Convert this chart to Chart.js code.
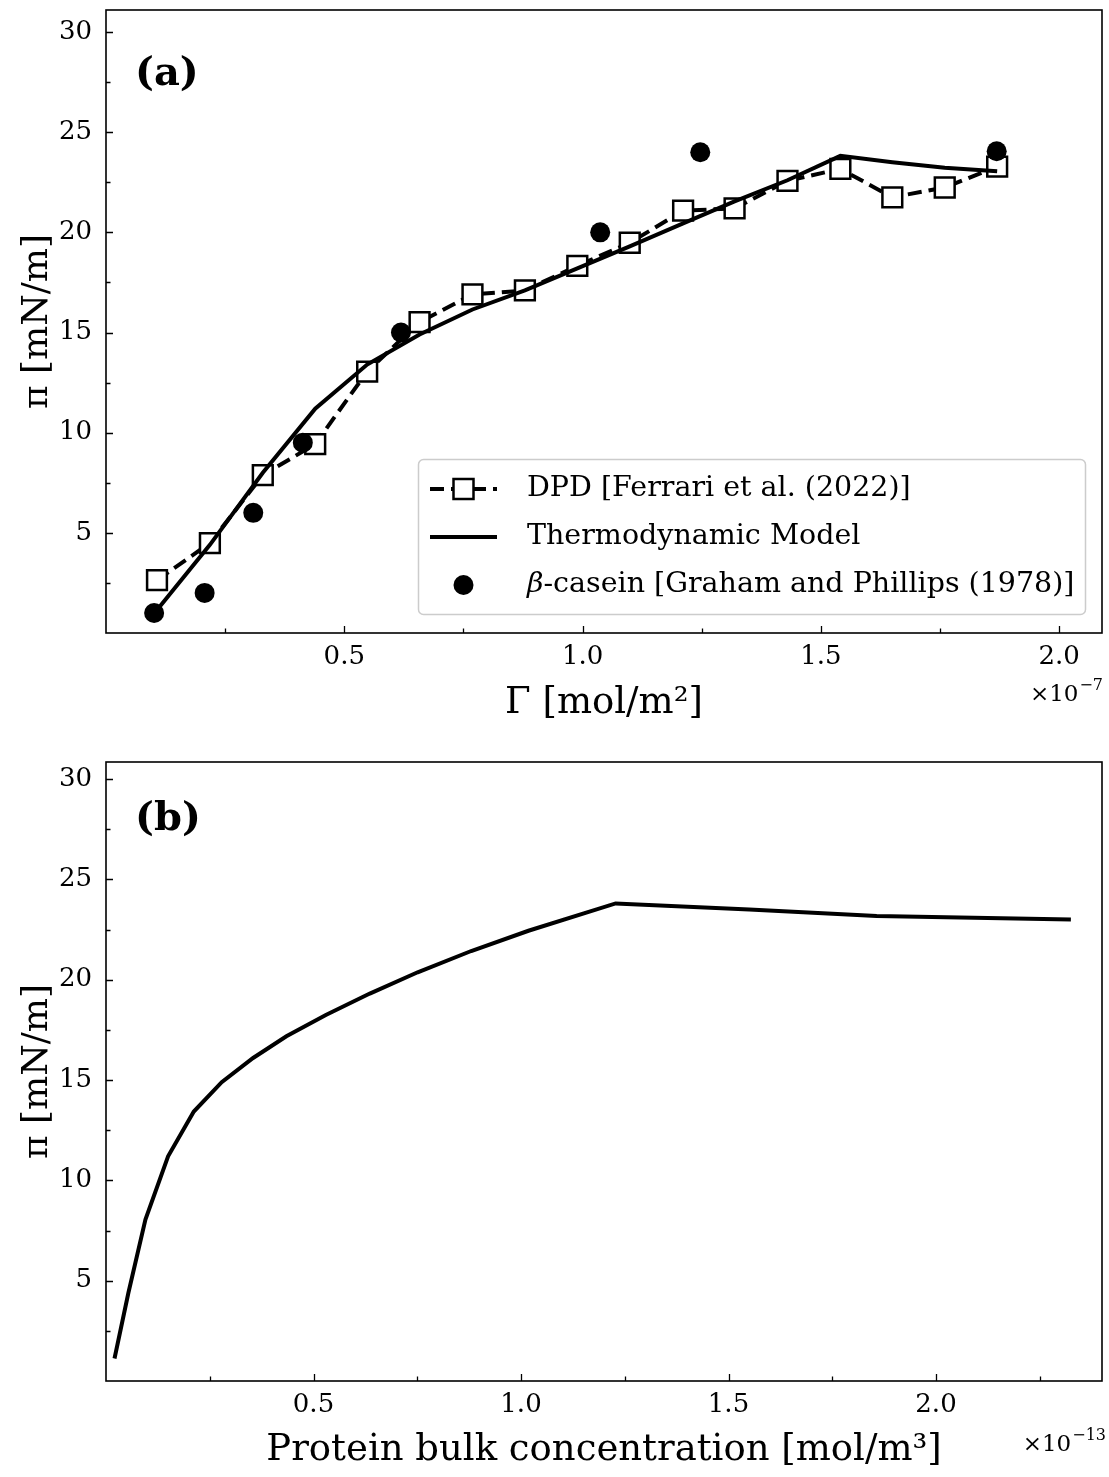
<!DOCTYPE html>
<html><head><meta charset="utf-8">
<script src="https://cdn.jsdelivr.net/npm/chart.js@4.4.0/dist/chart.umd.min.js"></script>
<style>
html,body{margin:0;padding:0;background:#fff;}
#wrap{position:relative;width:1109px;height:1477px;background:#fff;}
#c1{position:absolute;left:0;top:0;}
#c2{position:absolute;left:0;top:740px;}
</style></head><body>
<div id="wrap"><canvas id="c1" width="1109" height="740"></canvas><canvas id="c2" width="1109" height="737"></canvas></div>
<script>
// ---- data (x in units of 1e-7 mol/m2 and 1e-13 mol/m3) ----
const gammaDPD   = [0.107, 0.218, 0.329, 0.439, 0.548, 0.658, 0.769, 0.879, 0.989, 1.099, 1.211, 1.319, 1.430, 1.541, 1.650, 1.760, 1.870];
const piDPD      = [2.64, 4.49, 7.88, 9.43, 13.05, 15.52, 16.90, 17.10, 18.33, 19.48, 21.08, 21.20, 22.57, 23.17, 21.75, 22.24, 23.28];
const gammaModel = [0.107, 0.218, 0.329, 0.439, 0.548, 0.658, 0.769, 0.879, 0.989, 1.099, 1.211, 1.319, 1.430, 1.541, 1.650, 1.760, 1.870];
const piModel    = [1.15, 4.40, 8.00, 11.20, 13.40, 14.90, 16.15, 17.10, 18.20, 19.30, 20.45, 21.55, 22.60, 23.82, 23.50, 23.22, 23.05];
const gammaCasein = [0.101, 0.207, 0.309, 0.413, 0.619, 1.037, 1.247, 1.869];
const piCasein    = [1.0, 2.0, 6.0, 9.5, 15.0, 20.0, 24.0, 24.05];
const concBulk = [0.0205, 0.054, 0.095, 0.1496, 0.2116, 0.2788, 0.3545, 0.4347, 0.5297, 0.6357, 0.751, 0.880, 1.018, 1.228, 1.550, 1.857, 2.325];
const piBulk   = [1.12, 4.40, 8.05, 11.20, 13.43, 14.89, 16.10, 17.18, 18.24, 19.31, 20.37, 21.43, 22.44, 23.80, 23.50, 23.18, 23.00];

// ---- ticks ----
const xTicksTop = [0.5, 1.0, 1.5, 2.0];
const xMinorTop = [0.25, 0.75, 1.25, 1.75];
const xTicksBot = [0.5, 1.0, 1.5, 2.0];
const xMinorBot = [0.25, 0.75, 1.25, 1.75, 2.25];
const yTicks = [5, 10, 15, 20, 25, 30];
const yMinor = [2.5, 7.5, 12.5, 17.5, 22.5, 27.5];

// ---- labels ----
const labelsDPD = 'DPD [Ferrari et al. (2022)]';
const labelsModel = 'Thermodynamic Model';
const labelsCasein = '-casein [Graham and Phillips (1978)]';

const FAM = "'DejaVu Serif', 'Liberation Serif', serif";
const pts = (xs, ys) => xs.map((x, i) => ({x: x, y: ys[i]}));

function frameTicksPlugin(xMaj, xMin, yMaj, yMin) {
  return {
    id: 'frameTicks',
    afterDraw(chart) {
      const ctx = chart.ctx, a = chart.chartArea;
      const xs = chart.scales.x, ys = chart.scales.y;
      ctx.save();
      ctx.strokeStyle = '#000';
      ctx.lineWidth = 1.6;
      ctx.strokeRect(a.left, a.top, a.right - a.left, a.bottom - a.top);
      ctx.lineWidth = 1.3;
      ctx.beginPath();
      const xt = (vals, len) => vals.forEach(v => { const p = Math.round(xs.getPixelForValue(v)) + 0.5; ctx.moveTo(p, a.bottom); ctx.lineTo(p, a.bottom - len); });
      const yt = (vals, len) => vals.forEach(v => { const p = Math.round(ys.getPixelForValue(v)) + 0.5; ctx.moveTo(a.left, p); ctx.lineTo(a.left + len, p); });
      xt(xMaj, 7); xt(xMin, 4.5); yt(yMaj, 7); yt(yMin, 4.5);
      ctx.stroke();
      ctx.restore();
    }
  };
}

function textPlugin(panel, expo, rightX, baseY, labelY) {
  return {
    id: 'texts',
    afterDraw(chart) {
      const ctx = chart.ctx;
      ctx.save();
      ctx.fillStyle = '#000';
      ctx.font = "bold 40px " + FAM;
      ctx.textBaseline = 'middle';
      ctx.textAlign = 'left';
      ctx.fillText(panel, 135, labelY);
      ctx.textBaseline = 'alphabetic';
      ctx.font = "23px " + FAM;
      const w = ctx.measureText('\u00d710').width;
      ctx.font = "16px " + FAM;
      const w2 = ctx.measureText(expo).width;
      const x0 = rightX - w - w2 - 1;
      ctx.font = "23px " + FAM;
      ctx.fillText('\u00d710', x0, baseY);
      ctx.font = "16px " + FAM;
      ctx.fillText(expo, x0 + w + 1, baseY - 11);
      ctx.restore();
    }
  };
}

const legendPlugin = {
  id: 'customLegend',
  afterDraw(chart) {
    const ctx = chart.ctx;
    ctx.save();
    const bx = 418.5, by = 459.5, bw = 667, bh = 155, r = 5;
    ctx.beginPath();
    ctx.moveTo(bx + r, by);
    ctx.arcTo(bx + bw, by, bx + bw, by + bh, r);
    ctx.arcTo(bx + bw, by + bh, bx, by + bh, r);
    ctx.arcTo(bx, by + bh, bx, by, r);
    ctx.arcTo(bx, by, bx + bw, by, r);
    ctx.closePath();
    ctx.fillStyle = 'rgba(255,255,255,0.8)';
    ctx.fill();
    ctx.strokeStyle = '#cccccc';
    ctx.lineWidth = 1.5;
    ctx.stroke();
    const rows = [489, 537, 585];
    const x0 = 430, x1 = 497, xm = 463.5;
    // row 1
    ctx.strokeStyle = '#000';
    ctx.lineWidth = 4;
    ctx.setLineDash([14, 7]);
    ctx.beginPath(); ctx.moveTo(x0, rows[0]); ctx.lineTo(x1, rows[0]); ctx.stroke();
    ctx.setLineDash([]);
    ctx.fillStyle = '#fff';
    ctx.lineWidth = 2.5;
    ctx.fillRect(xm - 10, rows[0] - 10, 20, 20);
    ctx.strokeRect(xm - 10, rows[0] - 10, 20, 20);
    // row 2
    ctx.lineWidth = 4;
    ctx.beginPath(); ctx.moveTo(x0, rows[1]); ctx.lineTo(x1, rows[1]); ctx.stroke();
    // row 3
    ctx.fillStyle = '#000';
    ctx.beginPath(); ctx.arc(xm, rows[2], 10, 0, Math.PI * 2); ctx.fill();
    // texts
    ctx.textBaseline = 'middle';
    ctx.textAlign = 'left';
    ctx.font = "28.5px " + FAM;
    ctx.fillText(labelsDPD, 527, rows[0]);
    ctx.fillText(labelsModel, 527, rows[1]);
    ctx.font = "italic 28.5px " + FAM;
    ctx.fillText('\u03b2', 527, rows[2]);
    const bw2 = ctx.measureText('\u03b2').width;
    ctx.font = "28.5px " + FAM;
    ctx.fillText(labelsCasein, 527 + bw2, rows[2]);
    ctx.restore();
  }
};

function axes(xMax, yMax, xMaj, xTitle, xH, titlePadBottom) {
  return {
    x: {
      type: 'linear', min: 0, max: xMax,
      afterBuildTicks: s => { s.ticks = xMaj.map(v => ({value: v})); },
      afterFit: s => { s.height = xH; s.paddingLeft = 0; s.paddingRight = 0; },
      ticks: { callback: v => Number(v).toFixed(1), color: '#000', font: {family: FAM, size: 26}, padding: 9, maxRotation: 0, autoSkip: false },
      grid: { display: false, drawTicks: false },
      border: { display: false },
      title: { display: true, text: xTitle, color: '#000', font: {family: FAM, size: 37}, padding: {top: 0, bottom: titlePadBottom} }
    },
    y: {
      type: 'linear', min: 0, max: yMax,
      afterBuildTicks: s => { s.ticks = yTicks.map(v => ({value: v})); },
      afterFit: s => { s.width = 106; s.paddingTop = 0; s.paddingBottom = 0; },
      ticks: { callback: v => String(v), color: '#000', font: {family: FAM, size: 26}, padding: 14, autoSkip: false },
      grid: { display: false, drawTicks: false },
      border: { display: false },
      title: { display: true, text: '\u03c0 [mN/m]', color: '#000', font: {family: FAM, size: 36}, padding: {top: 16, bottom: 0} }
    }
  };
}

const common = {
  responsive: false,
  animation: false,
  devicePixelRatio: 1,
  plugins: { legend: { display: false }, tooltip: { enabled: false } }
};

new Chart(document.getElementById('c1'), {
  type: 'scatter',
  data: {
    datasets: [
      { label: labelsDPD, data: pts(gammaDPD, piDPD), showLine: true, borderColor: '#000', borderWidth: 4, borderDash: [14, 7],
        pointStyle: 'rect', pointRadius: 14, pointBackgroundColor: '#fff', pointBorderColor: '#000', pointBorderWidth: 2.5, order: 2 },
      { label: labelsModel, data: pts(gammaModel, piModel), showLine: true, borderColor: '#000', borderWidth: 4, pointRadius: 0, order: 1 },
      { label: '\u03b2' + labelsCasein, data: pts(gammaCasein, piCasein), showLine: false, pointStyle: 'circle', pointRadius: 10,
        pointBackgroundColor: '#000', pointBorderColor: '#000', pointBorderWidth: 0, order: 0 }
    ]
  },
  options: Object.assign({}, common, {
    layout: { autoPadding: false, padding: { top: 10, right: 7, left: 0, bottom: 0 } },
    scales: axes(2.09, 31.1, xTicksTop, '\u0393 [mol/m\u00b2]', 107, 14)
  }),
  plugins: [frameTicksPlugin(xTicksTop, xMinorTop, yTicks, yMinor), legendPlugin, textPlugin('(a)', '\u22127', 1103, 701, 75)]
});

new Chart(document.getElementById('c2'), {
  type: 'scatter',
  data: {
    datasets: [
      { label: labelsModel, data: pts(concBulk, piBulk), showLine: true, borderColor: '#000', borderWidth: 4, pointRadius: 0 }
    ]
  },
  options: Object.assign({}, common, {
    layout: { autoPadding: false, padding: { top: 22, right: 7, left: 0, bottom: 0 } },
    scales: axes(2.4, 30.85, xTicksBot, 'Protein bulk concentration [mol/m\u00b3]', 96, 4)
  }),
  plugins: [frameTicksPlugin(xTicksBot, xMinorBot, yTicks, yMinor), textPlugin('(b)', '\u221213', 1106, 711, 80)]
});
</script>
</body></html>
